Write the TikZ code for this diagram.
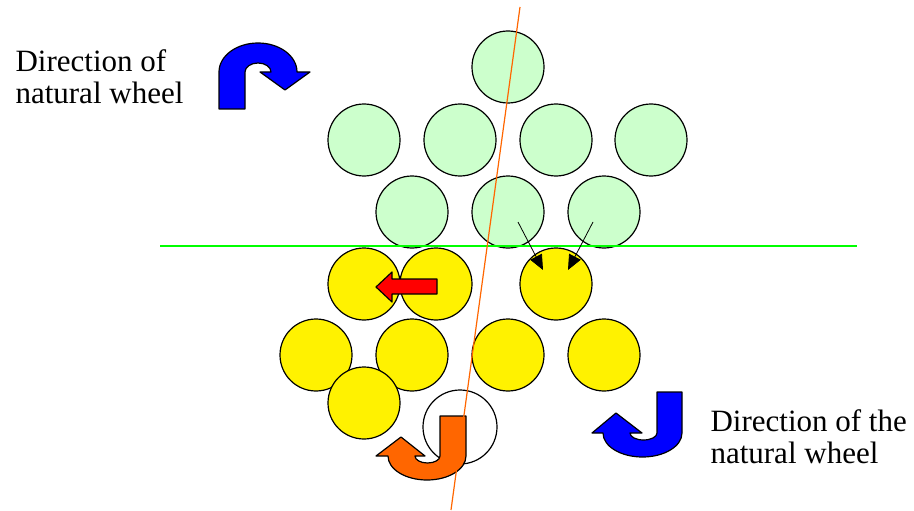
\documentclass[tikz,border=0pt]{standalone}
\usepackage{fontspec}
\setmainfont{Liberation Serif}
\usetikzlibrary{arrows.meta}
\definecolor{mint}{HTML}{CCFFCC}
\definecolor{pumpkin}{HTML}{FF6600}
\tikzset{ball/.style={circle,draw,line width=1.2pt,minimum size=72pt,inner sep=0pt},
  hook/.style={draw,line width=1.2pt,line join=round}}
\begin{document}
\begin{tikzpicture}[x=1pt,y=-1pt]
  \useasboundingbox (0,0) rectangle (914,511);
  % green balls
  \node[ball,fill=mint] (g1) at (508,67) {};
  \node[ball,fill=mint] (g2) at (364,140) {};
  \node[ball,fill=mint] (g3) at (460,140) {};
  \node[ball,fill=mint] (g4) at (556,140) {};
  \node[ball,fill=mint] (g5) at (651,140) {};
  \node[ball,fill=mint] (g6) at (412,212) {};
  \node[ball,fill=mint] (g7) at (508,212) {};
  \node[ball,fill=mint] (g8) at (604,212) {};
  \draw[green,line width=1.2pt] (160,246) -- (857,246);
  % yellow balls
  \node[ball,fill=yellow] (y1) at (364,284) {};
  \node[ball,fill=yellow] (y2) at (436,284) {};
  \node[ball,fill=yellow] (y3) at (556,284) {};
  \node[ball,fill=yellow] (y4) at (316,355) {};
  \node[ball,fill=yellow] (y5) at (412,355) {};
  \node[ball,fill=yellow] (y6) at (508,355) {};
  \node[ball,fill=yellow] (y7) at (604,355) {};
  \node[ball,fill=yellow] (y8) at (364,403) {};
  \node[ball,minimum size=74pt] (w) at (460,427) {};
  % pushes
  \coordinate (p1) at (518,222); \coordinate (q1) at (543,270);
  \coordinate (p2) at (593,222); \coordinate (q2) at (568,270);
  \draw[-{Triangle[length=15pt,width=13pt]},line width=0.8pt] (p1) -- (q1);
  \draw[-{Triangle[length=15pt,width=13pt]},line width=0.8pt] (p2) -- (q2);
  \draw[hook,fill=red] (437,279) -- (392,279) -- (392,272) -- (376,287) -- (392,302) -- (392,294) -- (437,294) -- cycle;
  % turning arrows
  \draw[hook,fill=blue] (219,109) -- (219,72) arc[start angle=180,end angle=360,x radius=39,y radius=29]
    -- (310,72) -- (285,90) -- (260,72) -- (271,72) arc[start angle=360,end angle=180,x radius=13,y radius=9]
    -- (245,109) -- cycle;
  \draw[hook,fill=blue] (682,392) -- (682,433) arc[start angle=0,end angle=180,x radius=39.5,y radius=24]
    -- (592,433) -- (616,413) -- (642,433) -- (630,433) arc[start angle=180,end angle=0,x radius=13.5,y radius=7]
    -- (657,392) -- cycle;
  \draw[hook,fill=pumpkin] (466,416) -- (466,456) arc[start angle=0,end angle=180,x radius=39,y radius=24]
    -- (376,456) -- (401,437) -- (425,456) -- (415,456) arc[start angle=180,end angle=0,x radius=12.5,y radius=7]
    -- (440,416) -- cycle;
  \draw[pumpkin,line width=1.2pt] (520,7) -- (451,510);
  \path (12,103) node[anchor=base west,align=left,font=\fontsize{31}{32}\selectfont] (t1) {Direction of\\natural wheel};
  \path (707,463) node[anchor=base west,align=left,font=\fontsize{31}{32}\selectfont] (t2) {Direction of the\\natural wheel};
\end{tikzpicture}
\end{document}
